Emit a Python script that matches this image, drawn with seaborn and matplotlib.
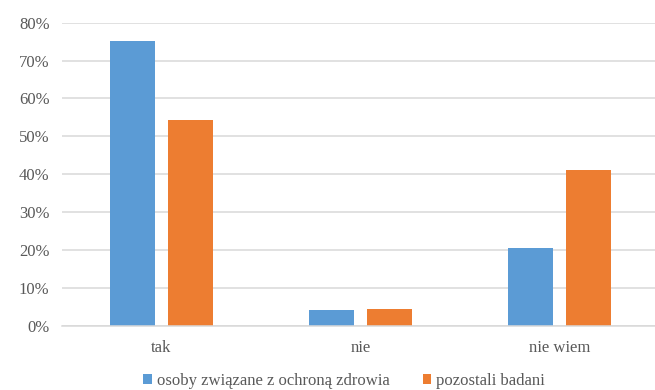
import matplotlib
matplotlib.use("Agg")
import matplotlib.pyplot as plt
import seaborn as sns
import pandas as pd
from matplotlib.ticker import PercentFormatter

# Answers and the share of respondents in each group
categories = ["tak", "nie", "nie wiem"]
groups = ["osoby związane z ochroną zdrowia", "pozostali badani"]
health_staff = [75.2, 4.0, 20.6]
other_respondents = [54.3, 4.4, 41.1]
y_ticks = [0, 10, 20, 30, 40, 50, 60, 70, 80]

df = pd.DataFrame({
    "odpowiedź": categories * 2,
    "grupa": [groups[0]] * 3 + [groups[1]] * 3,
    "odsetek": health_staff + other_respondents,
})

sns.set_theme(style="white")
plt.rcParams["font.family"] = ["Liberation Serif", "DejaVu Serif"]

text_color = "#595959"
grid_color = "#d9d9d9"

fig = plt.figure(figsize=(6.55, 3.9), dpi=100)
# plot area runs slightly past the right edge so the gridlines reach it
ax = fig.add_axes([62 / 655, 1 - 325.5 / 390, (659 - 62) / 655, (325.5 - 22.7) / 390])

sns.barplot(
    data=df, x="odpowiedź", y="odsetek", hue="grupa",
    palette=["#5b9bd5", "#ed7d31"], width=0.576, gap=0.21,
    ax=ax, legend=True, saturation=1, linewidth=0,
)

ax.set_ylim(0, 80)
ax.set_xlim(-0.5, 2.5)
ax.set_yticks(y_ticks)
ax.yaxis.set_major_formatter(PercentFormatter(decimals=0))
ax.grid(axis="y", color=grid_color, linewidth=1.1)
ax.set_axisbelow(True)
for side in ["top", "right", "left"]:
    ax.spines[side].set_visible(False)
ax.spines["bottom"].set_color(grid_color)
ax.spines["bottom"].set_linewidth(1.1)
ax.set_xlabel("")
ax.set_ylabel("")
ax.tick_params(axis="both", length=0, labelsize=12, labelcolor=text_color)
ax.tick_params(axis="y", pad=9)
ax.tick_params(axis="x", pad=10.5)

handles, labels = ax.get_legend_handles_labels()
ax.legend_.remove()
fig.legend(
    handles, labels, loc="center", bbox_to_anchor=(344 / 655, 9 / 390),
    ncol=2, frameon=False, fontsize=12, labelcolor=text_color,
    handlelength=0.5, handleheight=0.5, handletextpad=0.3, columnspacing=2.0,
)

fig.savefig("out.png", dpi=100)
